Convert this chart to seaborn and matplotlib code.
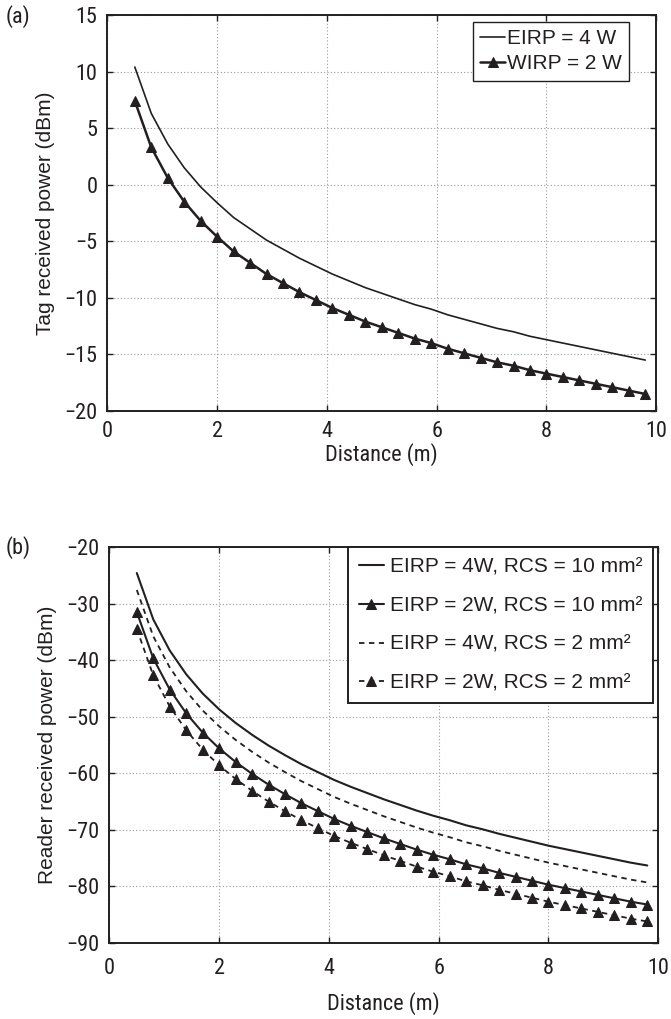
import matplotlib
matplotlib.use('Agg')
import matplotlib.pyplot as plt
from matplotlib import font_manager
import seaborn as sns
import pandas as pd

distance = [0.5, 0.8, 1.1, 1.4, 1.7, 2.0, 2.3, 2.6, 2.9, 3.2, 3.5, 3.8, 4.1, 4.4, 4.7, 5.0,
            5.3, 5.6, 5.9, 6.2, 6.5, 6.8, 7.1, 7.4, 7.7, 8.0, 8.3, 8.6, 8.9, 9.2, 9.5, 9.8]

# (a) tag received power, dBm
tag_eirp4 = [10.4, 6.3, 3.6, 1.5, -0.2, -1.6, -2.9, -3.9, -4.9, -5.7, -6.5, -7.2, -7.9, -8.5, -9.1, -9.6,
             -10.1, -10.6, -11.0, -11.5, -11.9, -12.3, -12.7, -13.0, -13.4, -13.7, -14.0, -14.3, -14.6, -14.9, -15.2, -15.5]
tag_wirp2 = [7.4, 3.3, 0.6, -1.5, -3.2, -4.6, -5.9, -6.9, -7.9, -8.7, -9.5, -10.2, -10.9, -11.5, -12.1, -12.6,
             -13.1, -13.6, -14.0, -14.5, -14.9, -15.3, -15.7, -16.0, -16.4, -16.7, -17.0, -17.3, -17.6, -17.9, -18.2, -18.5]

# (b) reader received power, dBm
rd_4w_10 = [-24.6, -32.8, -38.3, -42.5, -45.9, -48.7, -51.1, -53.2, -55.1, -56.8, -58.4, -59.8, -61.2, -62.4, -63.5, -64.6,
            -65.6, -66.6, -67.5, -68.3, -69.2, -69.9, -70.7, -71.4, -72.1, -72.8, -73.4, -74.0, -74.6, -75.2, -75.8, -76.3]
rd_2w_10 = [-31.5, -39.7, -45.2, -49.4, -52.8, -55.6, -58.0, -60.1, -62.0, -63.7, -65.3, -66.7, -68.1, -69.3, -70.4, -71.5,
            -72.5, -73.5, -74.4, -75.2, -76.1, -76.8, -77.6, -78.3, -79.0, -79.7, -80.3, -80.9, -81.5, -82.1, -82.7, -83.2]
rd_4w_2 = [-27.6, -35.8, -41.3, -45.5, -48.9, -51.7, -54.1, -56.2, -58.1, -59.8, -61.4, -62.8, -64.2, -65.4, -66.5, -67.6,
           -68.6, -69.6, -70.5, -71.3, -72.2, -72.9, -73.7, -74.4, -75.1, -75.8, -76.4, -77.0, -77.6, -78.2, -78.8, -79.3]
rd_2w_2 = [-34.5, -42.7, -48.2, -52.4, -55.8, -58.6, -61.0, -63.1, -65.0, -66.7, -68.3, -69.7, -71.1, -72.3, -73.4, -74.5,
           -75.5, -76.5, -77.4, -78.2, -79.1, -79.8, -80.6, -81.3, -82.0, -82.7, -83.3, -83.9, -84.5, -85.1, -85.7, -86.2]

ink = '#231f20'

sns.set_theme(style='white')
plt.rcParams['font.family'] = ['Liberation Sans', 'DejaVu Sans']

# condensed face for the tick numbers if there is one
narrow = 'Liberation Sans'
for cand in ['Liberation Sans Narrow', 'Roboto Condensed', 'Open Sans Condensed']:
    try:
        font_manager.findfont(cand, fallback_to_default=False)
        narrow = cand
        break
    except ValueError:
        pass

fig = plt.figure(figsize=(6.71, 10.19), dpi=100)
ax1 = fig.add_axes([0.160, 0.5967, 0.818, 0.3886])
ax2 = fig.add_axes([0.163, 0.0746, 0.818, 0.3886])


def style_axes(ax, yticks, pad):
    ax.set_xlim(0, 10)
    ax.set_xticks([0, 2, 4, 6, 8, 10])
    ax.set_ylim(yticks[0], yticks[-1])
    ax.set_yticks(yticks)
    ax.set_yticklabels([str(v).replace('-', '\u2212') for v in yticks])
    ax.grid(True, color='#9a9a9a', linestyle=(0, (1, 2)), linewidth=0.8)
    ax.tick_params(direction='in', length=4, width=1, color=ink, labelsize=16,
                   top=True, right=True, bottom=True, left=True, labelcolor=ink)
    ax.tick_params(axis='x', pad=pad)
    ax.tick_params(axis='y', pad=7)
    for lab in ax.get_xticklabels() + ax.get_yticklabels():
        lab.set_family([narrow, 'DejaVu Sans'])
    for s in ax.spines.values():
        s.set_color(ink)
        s.set_linewidth(1.4)


df_a = pd.DataFrame({'d': distance, 'e4': tag_eirp4, 'w2': tag_wirp2})
sns.lineplot(data=df_a, x='d', y='e4', ax=ax1, color=ink, linewidth=1.2, label='EIRP = 4 W')
sns.lineplot(data=df_a, x='d', y='w2', ax=ax1, color=ink, linewidth=1.8, marker='^',
             markersize=6.5, markeredgecolor=ink, label='WIRP = 2 W')
style_axes(ax1, [-20, -15, -10, -5, 0, 5, 10, 15], 7)
ax1.set_xlabel('Distance (m)', fontsize=16, family=[narrow, 'DejaVu Sans'], color=ink, labelpad=1)
ax1.set_ylabel('Tag received power (dBm)', fontsize=15, color=ink, labelpad=7)
leg1 = ax1.legend(loc='upper right', bbox_to_anchor=(0.951, 0.983), borderaxespad=0,
                  fontsize=15, handlelength=1.2, handletextpad=0.1,
                  borderpad=0.35, labelspacing=0.3, fancybox=False, framealpha=1, edgecolor=ink)
leg1.get_frame().set_linewidth(1.0)
for t in leg1.get_texts():
    t.set_color(ink)

df_b = pd.DataFrame({'d': distance, 'a': rd_4w_10, 'b': rd_2w_10, 'c': rd_4w_2, 'e': rd_2w_2})
sns.lineplot(data=df_b, x='d', y='a', ax=ax2, color=ink, linewidth=1.5,
             label='EIRP = 4W, RCS = 10 mm\u00b2')
sns.lineplot(data=df_b, x='d', y='b', ax=ax2, color=ink, linewidth=1.5, marker='^',
             markersize=6.5, markeredgecolor=ink, label='EIRP = 2W, RCS = 10 mm\u00b2')
sns.lineplot(data=df_b, x='d', y='c', ax=ax2, color=ink, linewidth=1.3, linestyle=(0, (3, 2.5)),
             label='EIRP = 4W, RCS = 2 mm\u00b2')
sns.lineplot(data=df_b, x='d', y='e', ax=ax2, color=ink, linewidth=1.3, linestyle=(0, (3, 2.5)),
             marker='^', markersize=6.5, markeredgecolor=ink, label='EIRP = 2W, RCS = 2 mm\u00b2')
style_axes(ax2, [-90, -80, -70, -60, -50, -40, -30, -20], 11)
ax2.set_xlabel('Distance (m)', fontsize=16, family=[narrow, 'DejaVu Sans'], color=ink, labelpad=9)
ax2.set_ylabel('Reader received power (dBm)', fontsize=15, color=ink, labelpad=7)
leg2 = ax2.legend(loc='upper right', bbox_to_anchor=(0.99, 1.0), borderaxespad=0,
                  fontsize=15, handlelength=1.2, handletextpad=0.3,
                  borderpad=0.5, labelspacing=0.95, fancybox=False, framealpha=1, edgecolor=ink)
leg2.get_frame().set_linewidth(1.4)
for t in leg2.get_texts():
    t.set_color(ink)

fig.text(0.008, 0.984, '(a)', fontsize=16, family=[narrow, 'DejaVu Sans'], color=ink, va='center')
fig.text(0.008, 0.463, '(b)', fontsize=16, family=[narrow, 'DejaVu Sans'], color=ink, va='center')

fig.savefig('out.png', dpi=100)
plt.close(fig)
